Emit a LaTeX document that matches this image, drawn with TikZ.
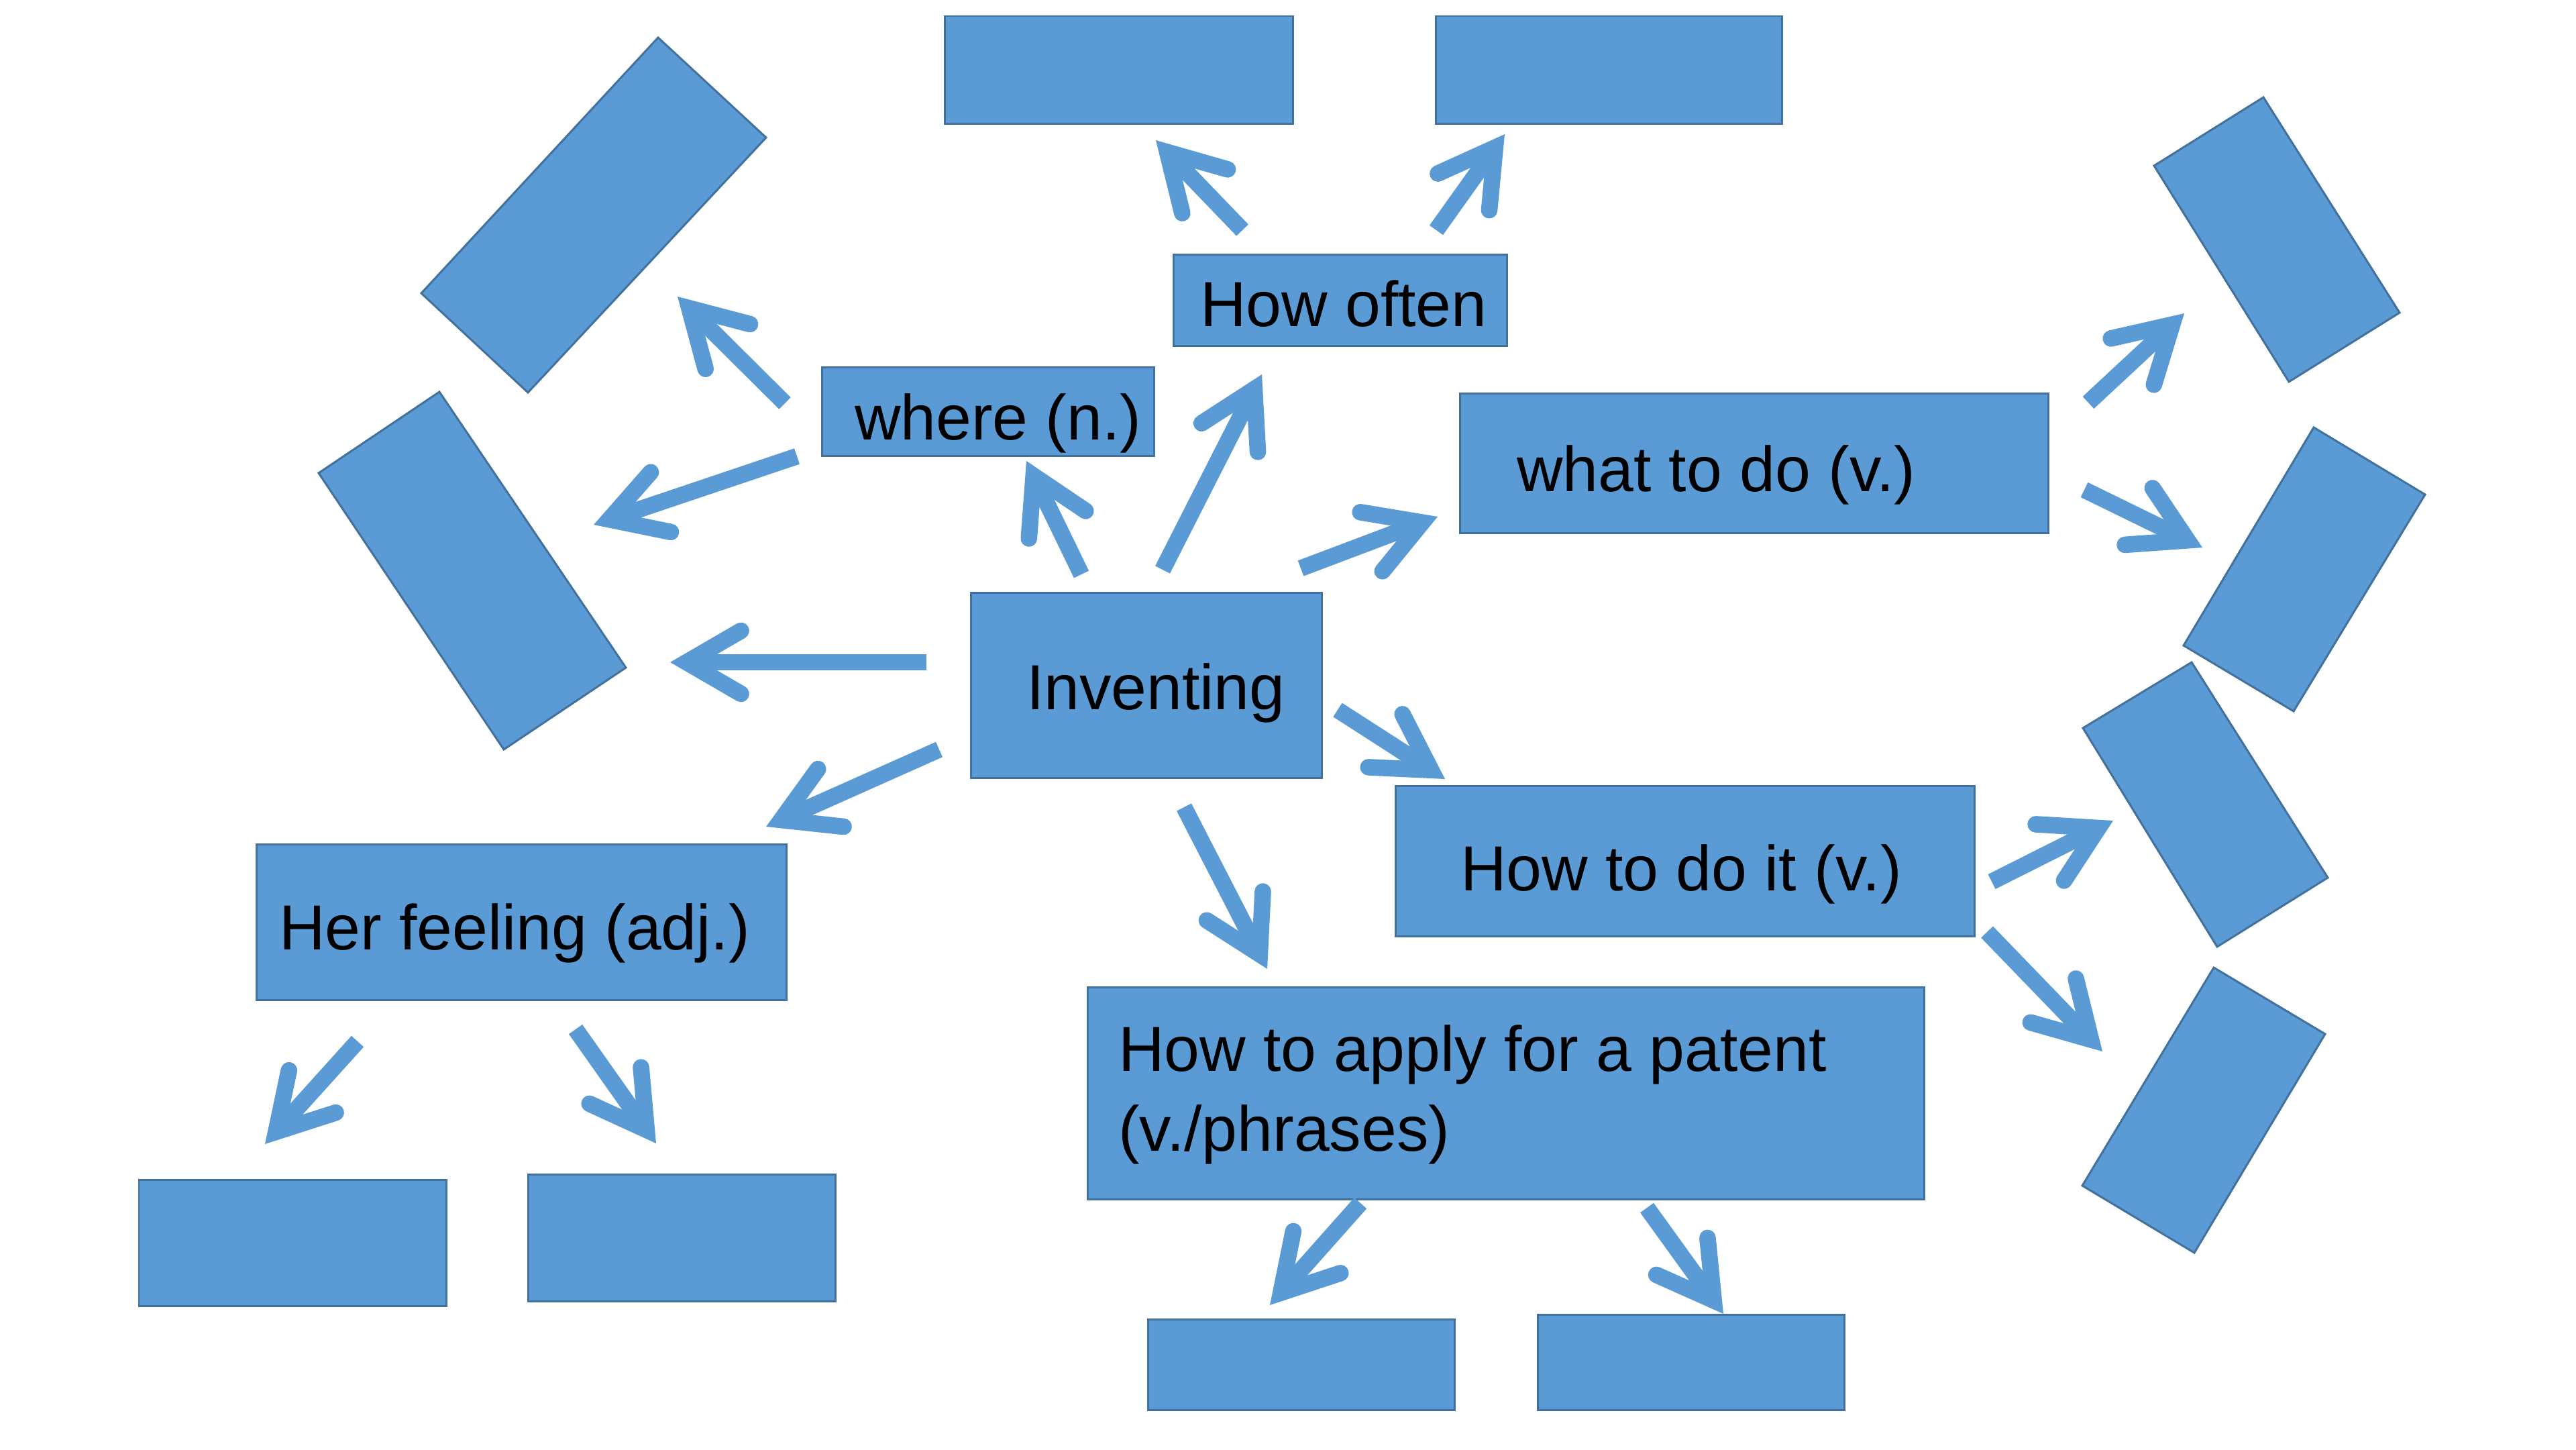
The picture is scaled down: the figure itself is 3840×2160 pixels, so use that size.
\documentclass[tikz,border=0pt]{standalone}
\usepackage{fontspec}
\setmainfont{Liberation Sans}
\usetikzlibrary{arrows.meta,fit}
\definecolor{boxfill}{HTML}{5B9BD5}
\definecolor{boxline}{HTML}{41719C}
\tikzset{
  box/.style={fill=boxfill, draw=boxline, line width=0.85pt, inner sep=0pt, outer sep=0pt},
  lbl/.style={anchor=base west, inner sep=0pt, outer sep=0pt, text=black, font=\fontsize{27pt}{32pt}\selectfont},
  arr/.style={draw=boxfill, line width=7pt, line cap=butt,
    -{Straight Barb[length=0.81cm, width=0.94cm, line cap=round, line join=miter]}}
}
\begin{document}
\begin{tikzpicture}[x=0.01cm,y=-0.01cm]
\useasboundingbox (0,0) rectangle (3840,2160);
\fill[white] (0,0) rectangle (3840,2160);

% upright boxes
\node[box, fit={(1408,24) (1927,184)}] (tl) {};
\node[box, fit={(2140,24) (2656,184)}] (tr) {};
\node[box, fit={(1749,379) (2246,515)}] (often) {};
\node[box, fit={(1225,547) (1720,679)}] (where) {};
\node[box, fit={(2176,586) (3053,794)}] (what) {};
\node[box, fit={(1447,883) (1970,1159)}] (inv) {};
\node[box, fit={(2080,1171) (2943,1395)}] (howdo) {};
\node[box, fit={(382,1258) (1172,1490)}] (her) {};
\node[box, fit={(1621,1471) (2868,1787)}] (apply) {};
\node[box, fit={(207,1758) (665,1946)}] (hb1) {};
\node[box, fit={(787,1750) (1245,1939)}] (hb2) {};
\node[box, fit={(1711,1966) (2168,2101)}] (ab1) {};
\node[box, fit={(2292,1959) (2749,2101)}] (ab2) {};

% tilted boxes
\draw[box] (981,56) -- (1142,205) -- (787,585) -- (628,437) -- cycle;
\draw[box] (655,584) -- (933,995) -- (751,1117) -- (475,705) -- cycle;
\draw[box] (3374,145) -- (3577,466) -- (3412,569) -- (3211,247) -- cycle;
\draw[box] (3449,637) -- (3615,737) -- (3419,1060) -- (3255,962) -- cycle;
\draw[box] (3267,987) -- (3470,1308) -- (3305,1411) -- (3105,1085) -- cycle;
\draw[box] (3300,1442) -- (3466,1541) -- (3271,1867) -- (3104,1767) -- cycle;

% labels
\node[lbl] (toften) at (1789,486) {How often};
\node[lbl] (twhere) at (1274,655) {where (n.)};
\node[lbl] (twhat) at (2261,732) {what to do (v.)};
\node[lbl] (tinv) at (1530,1057) {Inventing};
\node[lbl] (thowdo) at (2177,1327) {How to do it (v.)};
\node[lbl] (ther) at (416,1415) {Her feeling (adj.)};
\node[lbl] (tapply1) at (1667,1596) {How to apply for a patent};
\node[lbl] (tapply2) at (1667,1715) {(v./phrases)};

% arrow end points
\coordinate (s1) at (1612,856);  \coordinate (e1) at (1530,687);
\coordinate (s2) at (1733,849);  \coordinate (e2) at (1881,558);
\coordinate (s3) at (1939,847);  \coordinate (e3) at (2143,770);
\coordinate (s4) at (1994,1058); \coordinate (e4) at (2154,1161);
\coordinate (s5) at (1765,1203); \coordinate (e5) at (1889,1444);
\coordinate (s6) at (1400,1117); \coordinate (e6) at (1142,1232);
\coordinate (s7) at (1381,987);  \coordinate (e7) at (999,987);
\coordinate (s8) at (1170,601);  \coordinate (e8) at (1010,442);
\coordinate (s9) at (1188,680);  \coordinate (e9) at (885,782);
\coordinate (s10) at (1852,343); \coordinate (e10) at (1723,209);
\coordinate (s11) at (2141,343); \coordinate (e11) at (2243,200);
\coordinate (s12) at (3113,600); \coordinate (e12) at (3256,467);
\coordinate (s13) at (3107,730); \coordinate (e13) at (3283,816);
\coordinate (s14) at (2969,1314); \coordinate (e14) at (3150,1223);
\coordinate (s15) at (2962,1389); \coordinate (e15) at (3134,1567);
\coordinate (s16) at (533,1552); \coordinate (e16) at (395,1705);
\coordinate (s17) at (858,1534); \coordinate (e17) at (978,1704);
\coordinate (s18) at (2028,1793); \coordinate (e18) at (1893,1945);
\coordinate (s19) at (2455,1800); \coordinate (e19) at (2569,1958);

\foreach \i in {1,...,19} { \draw[arr] (s\i) -- (e\i); }
\end{tikzpicture}
\end{document}
